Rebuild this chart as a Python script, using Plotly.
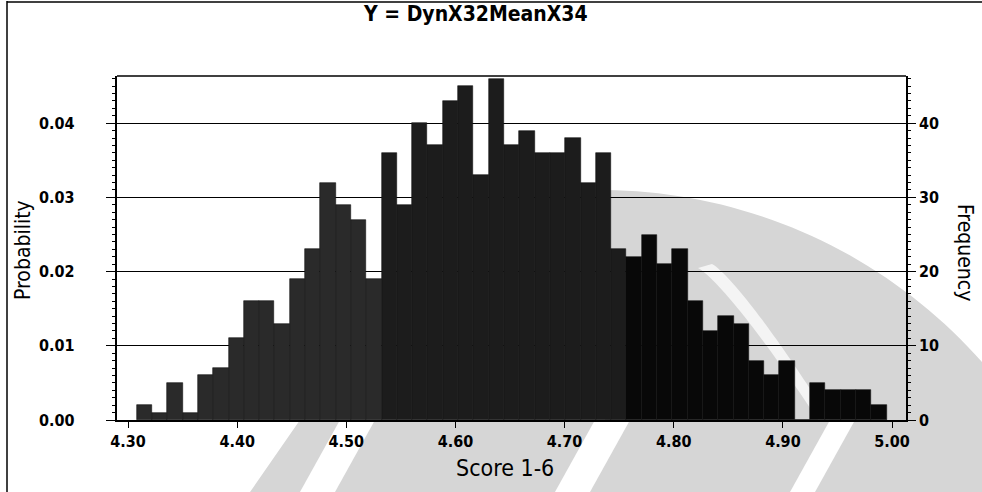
import math
import plotly.graph_objects as go

# Histogram of simulated DynX32MeanX34 scores (1000 trials, 49 bins)
bin_start = 4.308
bin_width = 0.01402
counts = [2, 1, 5, 1, 6, 7, 11, 16, 16, 13, 19, 23, 32, 29, 27, 19, 36, 29, 40, 37,
          43, 45, 33, 46, 37, 39, 36, 36, 38, 32, 36, 23, 22, 25, 21, 23, 16, 12, 14, 13,
          8, 6, 8, 0, 5, 4, 4, 4, 2]
trials = 1000

x_ticks = [4.30, 4.40, 4.50, 4.60, 4.70, 4.80, 4.90, 5.00]
prob_ticks = [0.00, 0.01, 0.02, 0.03, 0.04]
freq_ticks = [0, 10, 20, 30, 40]

x_range = [4.2899, 5.0128]
freq_max = 46.36

title_text = "Y = DynX32MeanX34"
x_title = "Score 1-6"
left_title = "Probability"
right_title = "Frequency"

centers = [bin_start + (i + 0.5) * bin_width for i in range(len(counts))]

W, H = 982, 492
ML, MR, MT, MB = 117, 76, 76, 72
PW, PH = W - ML - MR, H - MT - MB


def px(xp):
    return (xp - ML) / PW


def py(yp):
    return 1 - (yp - MT) / PH


def poly_path(points):
    return "M " + " L ".join(f"{px(a):.4f},{py(b):.4f}" for a, b in points) + " Z"


FONT = "Liberation Sans Narrow, Arial Narrow, DejaVu Sans Condensed, sans-serif"
TICK_FONT = dict(family=FONT, size=16, color="black", weight="bold")

# bars darken where the faint background emblem sits behind them
bar_colors = []
for c in centers:
    if c < 4.53:
        bar_colors.append("#2a2a2a")
    elif c < 4.75:
        bar_colors.append("#1c1c1c")
    else:
        bar_colors.append("#080808")

fig = go.Figure()
fig.add_trace(go.Bar(
    x=centers, y=counts, width=bin_width, yaxis="y2",
    marker=dict(color=bar_colors, line=dict(color="#111111", width=0.6)),
    showlegend=False, hoverinfo="x+y",
))

fig.update_layout(
    width=W, height=H,
    margin=dict(l=ML, r=MR, t=MT, b=MB),
    paper_bgcolor="white", plot_bgcolor="rgba(0,0,0,0)",
    bargap=0,
    font=dict(family=FONT, color="black", size=15),
    xaxis=dict(
        range=x_range, tickvals=x_ticks, tickformat=".2f",
        showgrid=False, zeroline=False,
        showline=True, linecolor="black", linewidth=1.5,
        ticks="outside", ticklen=6, tickcolor="black",
        tickfont=TICK_FONT,
    ),
    yaxis=dict(
        range=[0, freq_max / trials], tickvals=prob_ticks, showticklabels=False,
        showgrid=True, gridcolor="black", gridwidth=1.3,
        zeroline=False, showline=True, linecolor="black", linewidth=1.5,
        ticks="outside", ticklen=9, tickcolor="black",
        minor=dict(dtick=0.001, ticks="outside", ticklen=3, tickcolor="black", showgrid=False),
    ),
    yaxis2=dict(
        range=[0, freq_max], tickvals=freq_ticks, overlaying="y", side="right",
        showgrid=False, zeroline=False, showline=True, linecolor="black", linewidth=1.5,
        ticks="outside", ticklen=8, tickcolor="black",
        minor=dict(dtick=1, ticks="outside", ticklen=3, tickcolor="black"),
        tickfont=TICK_FONT,
    ),
)

# probability labels sit well left of the axis line
for v in prob_ticks:
    fig.add_annotation(text=f"{v:.2f}", xref="paper", yref="y", x=px(77), y=v,
                       xanchor="right", yanchor="middle", showarrow=False, font=TICK_FONT)

# faint emblem in the background (light grey disc segment with pale bands)
cx, cy, r = 600, 700, 510
arc = []
a0 = math.acos((605 - cx) / r)
a1 = math.acos((W - cx) / r)
n = 40
for k in range(n + 1):
    a = a0 + (a1 - a0) * k / n
    arc.append((cx + r * math.cos(a), cy - r * math.sin(a)))
emblem = arc + [(W, H), (250, H), (300, 420), (605, 420)]
fig.add_shape(type="path", xref="paper", yref="paper", path=poly_path(emblem),
              fillcolor="#d6d6d6", line=dict(width=0), layer="below")
band = []
for k in range(n + 1):
    t = k / n
    band.append((698 + 120 * t, 268 + 152 * t ** 1.2))
for k in range(n, -1, -1):
    t = k / n
    band.append((712 + 118 * t, 264 + 156 * t ** 1.2))
fig.add_shape(type="path", xref="paper", yref="paper", path=poly_path(band),
              fillcolor="#f4f4f4", line=dict(width=0), layer="below")
for (x0, x1) in [(300, 335), (555, 590), (790, 815)]:
    fig.add_shape(type="path", xref="paper", yref="paper",
                  path=poly_path([(x0 + 40, 420), (x1 + 40, 420), (x1, H), (x0, H)]),
                  fillcolor="white", line=dict(width=0), layer="below")

# plot frame top edge and outer chart border
fig.add_shape(type="line", xref="paper", yref="paper", x0=0, x1=1, y0=1, y1=1,
              line=dict(color="black", width=1.5))
fig.add_shape(type="line", xref="paper", yref="paper", x0=px(7), x1=px(7), y0=py(1), y1=py(492),
              line=dict(color="black", width=1.5))
fig.add_shape(type="line", xref="paper", yref="paper", x0=px(7), x1=px(982), y0=py(2), y1=py(2),
              line=dict(color="black", width=1.5))

# certainty-range grabbers at both ends of the x axis
fig.add_shape(type="path", xref="x", yref="y", xsizemode="pixel", ysizemode="pixel",
              xanchor=x_range[0], yanchor=0, path="M -12,-9 L 0,0 L -12,9 Z",
              fillcolor="black", line=dict(color="black", width=1), layer="above")
fig.add_shape(type="path", xref="x", yref="y", xsizemode="pixel", ysizemode="pixel",
              xanchor=x_range[1], yanchor=0, path="M 14,-9 L 2,0 L 14,9 Z",
              fillcolor="black", line=dict(color="black", width=1), layer="above")

fig.add_annotation(text=title_text, xref="paper", yref="paper", x=px(475), y=py(14),
                   xanchor="center", yanchor="middle", showarrow=False,
                   font=dict(family=FONT, size=21, color="black", weight="bold"))
fig.add_annotation(text=x_title, xref="paper", yref="paper", x=px(505), y=py(468),
                   xanchor="center", yanchor="middle", showarrow=False,
                   font=dict(family=FONT, size=23, color="black"))
fig.add_annotation(text=left_title, xref="paper", yref="paper", x=px(23), y=py(250),
                   xanchor="center", yanchor="middle", textangle=-90, showarrow=False,
                   font=dict(family=FONT, size=21, color="black"))
fig.add_annotation(text=right_title, xref="paper", yref="paper", x=px(965), y=py(252),
                   xanchor="center", yanchor="middle", textangle=90, showarrow=False,
                   font=dict(family=FONT, size=21, color="black"))

fig.write_html("out.html", config={"displayModeBar": False})
